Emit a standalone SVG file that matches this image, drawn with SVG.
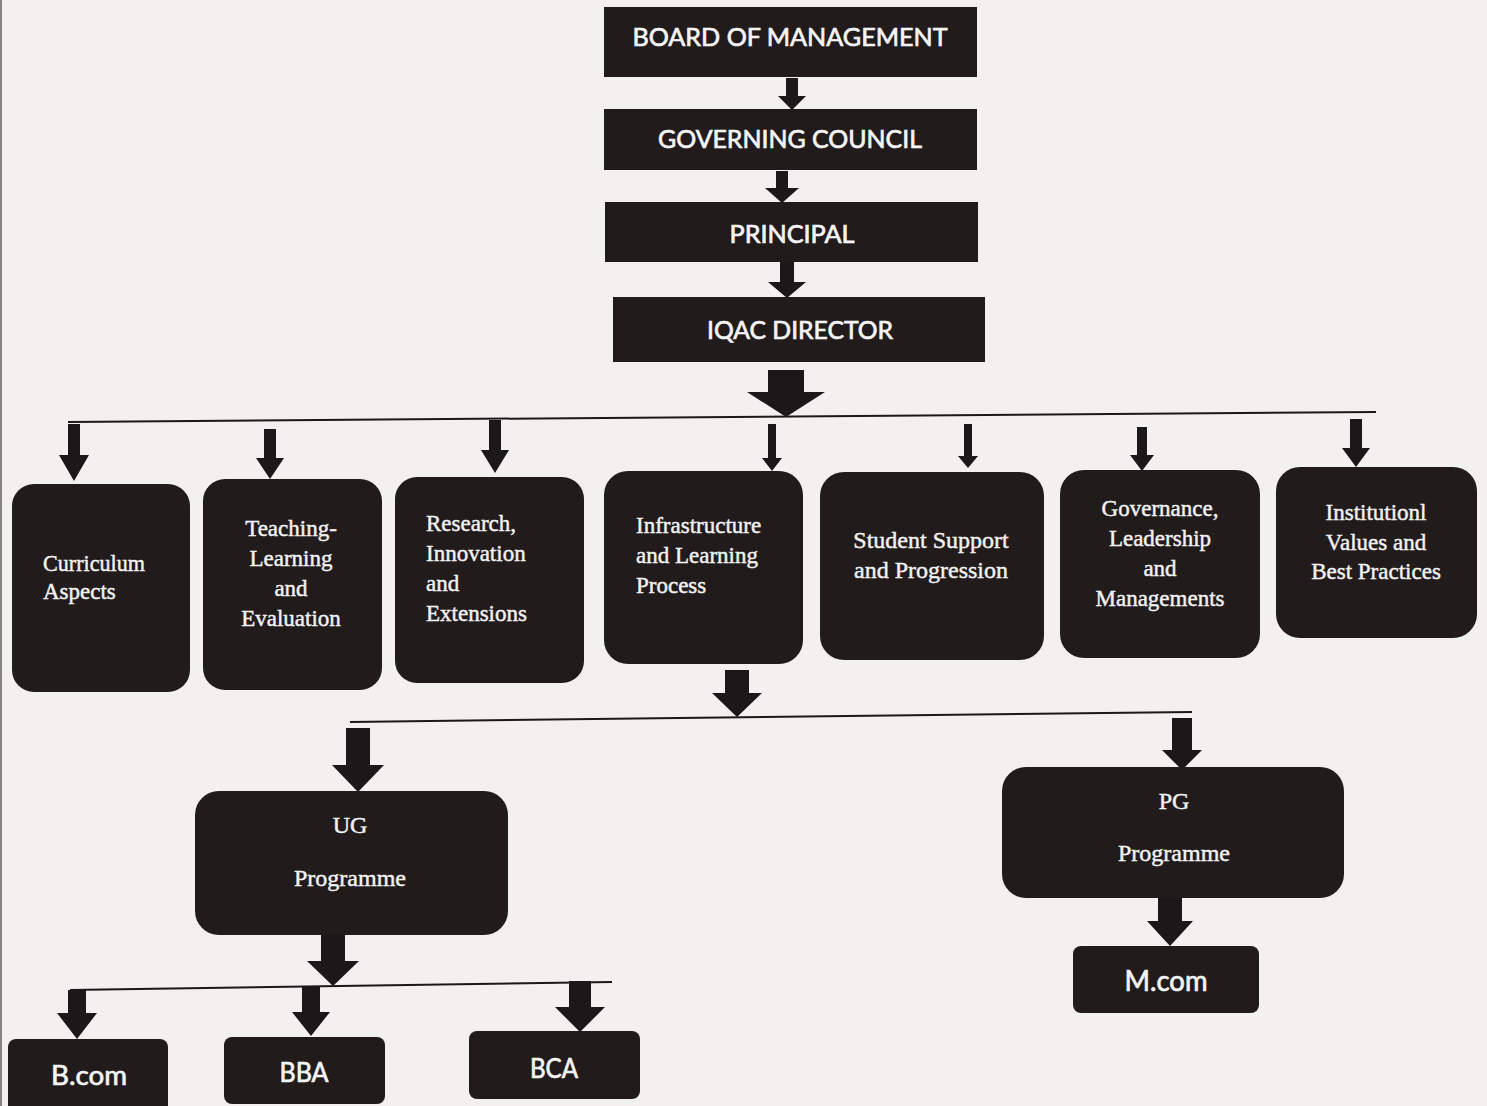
<svg xmlns="http://www.w3.org/2000/svg" width="1487" height="1106" viewBox="0 0 1487 1106">
<style>
.box{fill:#211b1c}
.arr{fill:#1c1718}
.ln{stroke:#1c1718;stroke-width:2;fill:none}
.sans{font-family:Lato,"Liberation Sans",sans-serif;fill:#f4f4f4;stroke:#f4f4f4;stroke-width:0.7;font-size:25px;text-anchor:middle}
.ser{font-family:"Liberation Serif","Times New Roman",serif;fill:#f2f2f2;stroke:#f2f2f2;stroke-width:0.45;font-size:23px}
.mid{text-anchor:middle}
</style>
<rect width="1487" height="1106" fill="#f3f1ef"/>
<line x1="1" y1="0" x2="1" y2="1106" stroke="#8a8585" stroke-width="2"/>

<g id="connectors">
<polygon class="arr" points="786,78 798,78 798,96 806,96 792,110 778,96 786,96"/>
<polygon class="arr" points="776,171 788,171 788,188 799,188 782,203 765,188 776,188"/>
<polygon class="arr" points="780,262 794,262 794,282 806,282 787,298 768,282 780,282"/>
<polygon class="arr" points="768,370 804,370 804,392 825,392 786,417 747,392 768,392"/>
<line class="ln" x1="68" y1="422" x2="1376" y2="412"/>
<polygon class="arr" points="68,424 80,424 80,455 89,455 74,481 59,455 68,455"/>
<polygon class="arr" points="264,429 276,429 276,458 284,458 270,479 256,458 264,458"/>
<polygon class="arr" points="489,420 501,420 501,450 509,450 495,473 481,450 489,450"/>
<polygon class="arr" points="768,424 776,424 776,458 782,458 772,471 762,458 768,458"/>
<polygon class="arr" points="964,424 972,424 972,456 978,456 968,468 958,456 964,456"/>
<polygon class="arr" points="1137,427 1147,427 1147,455 1154,455 1142,471 1130,455 1137,455"/>
<polygon class="arr" points="1350,419 1362,419 1362,448 1370,448 1356,467 1342,448 1350,448"/>
<polygon class="arr" points="725,670 749,670 749,693 762,693 737,717 712,693 725,693"/>
<line class="ln" x1="350" y1="722" x2="1192" y2="712"/>
<polygon class="arr" points="346,728 370,728 370,765 384,765 358,792 332,765 346,765"/>
<polygon class="arr" points="1172,718 1192,718 1192,750 1202,750 1182,770 1162,750 1172,750"/>
<polygon class="arr" points="1158,898 1182,898 1182,921 1193,921 1170,946 1147,921 1158,921"/>
<polygon class="arr" points="321,935 345,935 345,961 359,961 333,986 307,961 321,961"/>
<line class="ln" x1="70" y1="990" x2="612" y2="982"/>
<polygon class="arr" points="68,990 86,990 86,1013 97,1013 77,1039 57,1013 68,1013"/>
<polygon class="arr" points="302,987 320,987 320,1012 330,1012 311,1036 292,1012 302,1012"/>
<polygon class="arr" points="569,981 591,981 591,1007 605,1007 580,1032 555,1007 569,1007"/>
</g>

<g id="board">
<rect class="box" x="604" y="7" width="373" height="70"/>
<text class="sans" x="790" y="46" textLength="315" lengthAdjust="spacingAndGlyphs">BOARD OF MANAGEMENT</text>
</g>
<g id="council">
<rect class="box" x="604" y="109" width="373" height="61"/>
<text class="sans" x="790" y="148" textLength="264" lengthAdjust="spacingAndGlyphs">GOVERNING COUNCIL</text>
</g>
<g id="principal">
<rect class="box" x="605" y="202" width="373" height="60"/>
<text class="sans" x="792" y="243" textLength="125" lengthAdjust="spacingAndGlyphs">PRINCIPAL</text>
</g>
<g id="iqac">
<rect class="box" x="613" y="297" width="372" height="65"/>
<text class="sans" x="800" y="339" textLength="186" lengthAdjust="spacingAndGlyphs">IQAC DIRECTOR</text>
</g>

<g id="curriculum">
<rect class="box" x="12" y="484" width="178" height="208" rx="22"/>
<text class="ser" x="43" y="571" textLength="102" lengthAdjust="spacingAndGlyphs">Curriculum</text>
<text class="ser" x="43" y="599">Aspects</text>
</g>
<g id="teaching">
<rect class="box" x="203" y="479" width="179" height="211" rx="22"/>
<text class="ser mid" x="291" y="536">Teaching-</text>
<text class="ser mid" x="291" y="566">Learning</text>
<text class="ser mid" x="291" y="596">and</text>
<text class="ser mid" x="291" y="626">Evaluation</text>
</g>
<g id="research">
<rect class="box" x="395" y="477" width="189" height="206" rx="22"/>
<text class="ser" x="426" y="531">Research,</text>
<text class="ser" x="426" y="561">Innovation</text>
<text class="ser" x="426" y="591">and</text>
<text class="ser" x="426" y="621">Extensions</text>
</g>
<g id="infrastructure">
<rect class="box" x="604" y="471" width="199" height="193" rx="24"/>
<text class="ser" x="636" y="533">Infrastructure</text>
<text class="ser" x="636" y="563">and Learning</text>
<text class="ser" x="636" y="593">Process</text>
</g>
<g id="student">
<rect class="box" x="820" y="472" width="224" height="188" rx="24"/>
<text class="ser mid" x="931" y="548" style="font-size:24px">Student Support</text>
<text class="ser mid" x="931" y="578" style="font-size:24px">and Progression</text>
</g>
<g id="governance">
<rect class="box" x="1060" y="470" width="200" height="188" rx="24"/>
<text class="ser mid" x="1160" y="516">Governance,</text>
<text class="ser mid" x="1160" y="546">Leadership</text>
<text class="ser mid" x="1160" y="576">and</text>
<text class="ser mid" x="1160" y="606">Managements</text>
</g>
<g id="institutional">
<rect class="box" x="1276" y="467" width="201" height="171" rx="24"/>
<text class="ser mid" x="1376" y="520">Institutionl</text>
<text class="ser mid" x="1376" y="550">Values and</text>
<text class="ser mid" x="1376" y="579">Best Practices</text>
</g>

<g id="ug">
<rect class="box" x="195" y="791" width="313" height="144" rx="24"/>
<text class="ser mid" x="350" y="833" style="font-size:24px">UG</text>
<text class="ser mid" x="350" y="886" style="font-size:24px">Programme</text>
</g>
<g id="pg">
<rect class="box" x="1002" y="767" width="342" height="131" rx="24"/>
<text class="ser mid" x="1174" y="809" style="font-size:24px">PG</text>
<text class="ser mid" x="1174" y="861" style="font-size:24px">Programme</text>
</g>
<g id="mcom">
<rect class="box" x="1073" y="946" width="186" height="67" rx="8"/>
<text class="sans" x="1166" y="991" style="font-size:28px" textLength="83" lengthAdjust="spacingAndGlyphs">M.com</text>
</g>
<g id="bcom">
<rect class="box" x="8" y="1039" width="160" height="75" rx="8"/>
<text class="sans" x="89" y="1085" style="font-size:27px" textLength="76" lengthAdjust="spacingAndGlyphs">B.com</text>
</g>
<g id="bba">
<rect class="box" x="224" y="1037" width="161" height="67" rx="8"/>
<text class="sans" x="304" y="1082" style="font-size:27px" textLength="49" lengthAdjust="spacingAndGlyphs">BBA</text>
</g>
<g id="bca">
<rect class="box" x="469" y="1031" width="171" height="68" rx="8"/>
<text class="sans" x="554" y="1078" style="font-size:27px" textLength="48" lengthAdjust="spacingAndGlyphs">BCA</text>
</g>
</svg>
